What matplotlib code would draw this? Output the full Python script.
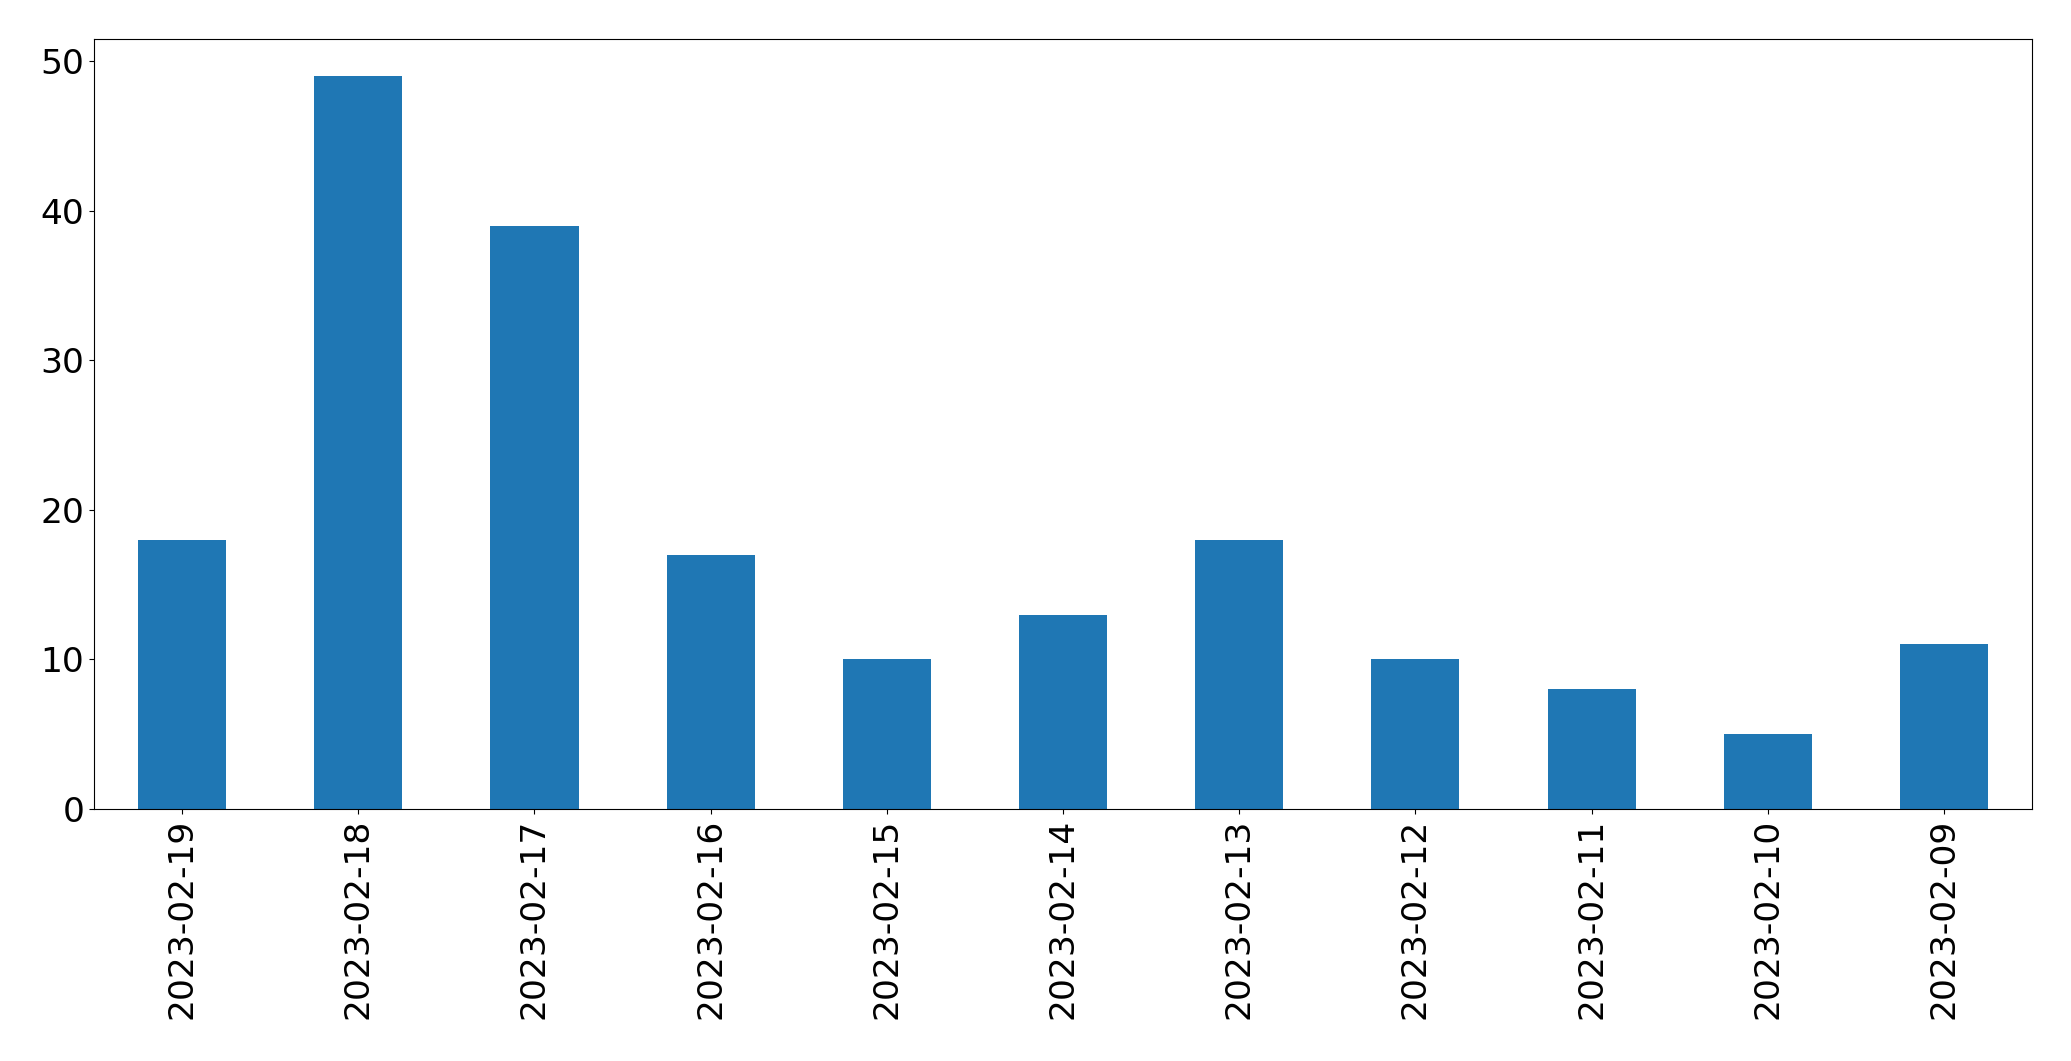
import numpy as np
from matplotlib import pyplot as plt

# daily counts, newest first (as in the source)
dates = ['2023-02-19', '2023-02-18', '2023-02-17', '2023-02-16', '2023-02-15',
         '2023-02-14', '2023-02-13', '2023-02-12', '2023-02-11', '2023-02-10',
         '2023-02-09']
counts = [18, 49, 39, 17, 10, 13, 18, 10, 8, 5, 11]


def main():
    fig = plt.figure(figsize=(20.71, 10.61), dpi=100)
    ax = fig.add_axes([0.0454, 0.2375, 0.9358, 0.7253])
    x = np.arange(len(dates))
    ax.bar(x, counts, width=0.5, color='#1f77b4')
    ax.set_xlim(-0.5, len(dates) - 0.5)
    ax.set_ylim(0, max(counts) * 1.05)
    ax.set_xticks(x)
    ax.set_xticklabels(dates, rotation=90)
    ax.set_yticks([0, 10, 20, 30, 40, 50])
    ax.tick_params(labelsize=24.8)
    fig.savefig('out.png', dpi=100)


if __name__ == '__main__':
    main()
